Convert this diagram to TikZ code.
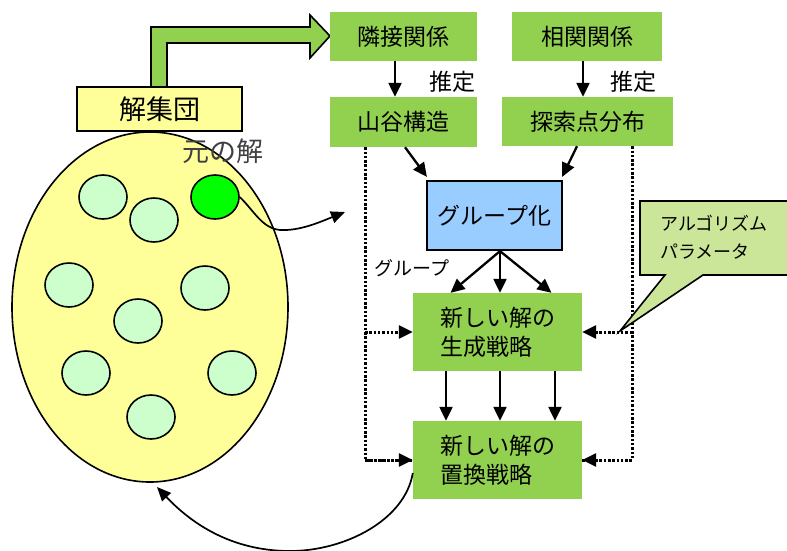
\documentclass[tikz,border=0pt]{standalone}
\usepackage{fontspec}
\setmainfont{Noto Sans CJK JP}
\usetikzlibrary{arrows.meta,calc,shapes.geometric}
\definecolor{gbox}{HTML}{92D050}
\definecolor{ybox}{HTML}{FFFF99}
\definecolor{bbox}{HTML}{99CCFF}
\definecolor{lgc}{HTML}{CCFFCC}
\definecolor{callc}{HTML}{CCE699}
\begin{document}
\begin{tikzpicture}[x=1pt,y=-1pt,
  every node/.style={font=\fontsize{23}{29}\selectfont, inner sep=0pt},
  arr/.style={line width=2.3pt, -{Triangle[length=14pt,width=13pt]}},
  dotarr/.style={line width=3pt, dash pattern=on 2.5pt off 1.8pt, -{Triangle[length=14pt,width=13pt]}},
  dotline/.style={line width=3pt, dash pattern=on 2.5pt off 1.8pt},
  smallc/.style={draw=black, line width=1.6pt, fill=lgc, ellipse, minimum width=48pt, minimum height=44pt},
  thin arr/.style={line width=1.7pt, -{Triangle[length=14pt,width=12pt]}}
]
\useasboundingbox (0,0) rectangle (787,550);

% population ellipse
\node[draw, line width=1.6pt, fill=ybox, ellipse, minimum width=276pt, minimum height=350pt] (pop) at (150,307) {};
\node[smallc] (c1) at (103,197) {};
\node[smallc] (c2) at (154,220) {};
\node[smallc, fill=green] (c3) at (215,197) {};
\node[smallc] (c4) at (69,285) {};
\node[smallc] (c5) at (205,288) {};
\node[smallc] (c6) at (138,321) {};
\node[smallc] (c7) at (86,373) {};
\node[smallc] (c8) at (232,373) {};
\node[smallc] (c9) at (151,417) {};

\node[text=black!75, font=\fontsize{27}{30}\selectfont] (orig) at (223,151) {元の解};

% big green arrow
\draw[fill=gbox, line width=1.6pt, line join=miter]
  (151,95) -- (151,27) -- (310,27) -- (310,15) -- (330,36) -- (310,58) -- (310,43) -- (167,43) -- (167,95) -- cycle;

% solution group box
\node[draw, line width=2pt, fill=ybox, minimum width=165pt, minimum height=44pt, font=\fontsize{27}{30}\selectfont] (sol) at (159.5,109) {解集団};

% top boxes
\node[fill=gbox, minimum width=147pt, minimum height=49pt] (rin) at (403.5,36.5) {隣接関係};
\node[fill=gbox, minimum width=150pt, minimum height=49pt] (sou) at (587,36.5) {相関関係};
\node[fill=gbox, minimum width=147pt, minimum height=50pt] (yama) at (403.5,122) {山谷構造};
\node[fill=gbox, minimum width=171pt, minimum height=49pt] (tan) at (587.5,121.5) {探索点分布};

\draw[arr] ([xshift=-8.5pt]rin.south) -- ([xshift=-8.5pt]yama.north);
\draw[arr] ([xshift=-4pt]sou.south) -- ([xshift=-4.5pt]tan.north);
\node (est1) at (452,82) {推定};
\node (est2) at (633,82) {推定};

% grouping
\node[draw, line width=2.2pt, fill=bbox, minimum width=135pt, minimum height=69pt] (grp) at (494.5,215.5) {グループ化};
\draw[arr] ([xshift=1.5pt]yama.south) -- ([xshift=1pt,yshift=3pt]grp.north west);
\draw[arr] ([xshift=-10.5pt]tan.south) -- ([xshift=-1pt,yshift=3pt]grp.north east);

% generation & replacement
\node[fill=gbox, minimum width=169pt, minimum height=78pt, align=left] (gen) at (497.5,332) {新しい解の\\生成戦略};
\node[fill=gbox, minimum width=169pt, minimum height=78pt, align=left] (rep) at (497.5,460) {新しい解の\\置換戦略};

\coordinate (go) at ([xshift=5.5pt]grp.south);
\draw[arr] (go) -- ([xshift=-47pt]gen.north);
\draw[arr] (go) -- ([xshift=2.5pt]gen.north);
\draw[arr] (go) -- ([xshift=54pt]gen.north);
\node[font=\fontsize{19}{22}\selectfont] (glab) at (412,268) {グループ};

\draw[arr] ([xshift=-51.5pt]gen.south) -- ([xshift=-51.5pt]rep.north);
\draw[arr] ([xshift=2.5pt]gen.south) -- ([xshift=2.5pt]rep.north);
\draw[arr] ([xshift=57.5pt]gen.south) -- ([xshift=57.5pt]rep.north);

% dotted feedback lines
\coordinate (L) at (365,300);
\coordinate (R) at (632,300);
\draw[dotline] (yama.south -| L) |- ([xshift=-1pt]rep.west);
\draw[dotarr] (rep.west -| L) -- (rep.west);
\draw[dotarr] (gen.west -| L) -- (gen.west);
\draw[dotline] (tan.south -| R) |- (rep.east);
\draw[dotarr] (rep.east -| R) -- (rep.east);
\draw[dotarr] (gen.east -| R) -- (gen.east);

% callout
\draw[fill=callc, line width=1.6pt, line join=miter]
  (640,201) -- (795,201) -- (795,275) -- (703,275) -- (620,331) -- (665,275) -- (640,275) -- cycle;
\node[align=left, anchor=west, font=\fontsize{18}{28}\selectfont] (cal) at (660,237) {アルゴリズム\\パラメータ};

% curved arrows
\coordinate (gtip) at (345,212);
\draw[thin arr] (c3.east) .. controls (255,212) and (262,228) .. (280,230) .. controls (300,231) and (320,222) .. (gtip);
\coordinate (ptip) at (157,487);
\draw[thin arr] ([yshift=-13pt]rep.west) .. controls (405,520) and (345,551) .. (290,551) .. controls (230,551) and (190,522) .. (ptip);
\end{tikzpicture}
\end{document}
